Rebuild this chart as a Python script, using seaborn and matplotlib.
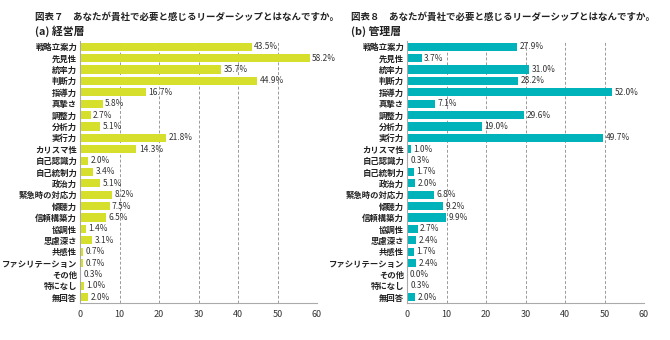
import matplotlib
matplotlib.use("Agg")
import matplotlib.pyplot as plt
import seaborn as sns
import pandas as pd

categories = ["戦略立案力", "先見性", "統率力", "判断力", "指導力", "真摯さ", "調整力", "分析力",
              "実行力", "カリスマ性", "自己認識力", "自己統制力", "政治力", "緊急時の対応力", "傾聴力",
              "信頼構築力", "協調性", "思慮深さ", "共感性", "ファシリテーション", "その他", "特になし", "無回答"]
exec_values = [43.5, 58.2, 35.7, 44.9, 16.7, 5.8, 2.7, 5.1, 21.8, 14.3, 2.0, 3.4, 5.1, 8.2, 7.5,
               6.5, 1.4, 3.1, 0.7, 0.7, 0.3, 1.0, 2.0]
mgr_values = [27.9, 3.7, 31.0, 28.2, 52.0, 7.1, 29.6, 19.0, 49.7, 1.0, 0.3, 1.7, 2.0, 6.8, 9.2,
              9.9, 2.7, 2.4, 1.7, 2.4, 0.0, 0.3, 2.0]
x_ticks = [0, 10, 20, 30, 40, 50, 60]
titles = ["図表７　あなたが貴社で必要と感じるリーダーシップとはなんですか。",
          "図表８　あなたが貴社で必要と感じるリーダーシップとはなんですか。"]
subtitles = ["(a) 経営層", "(b) 管理層"]
colors = ["#d6df2b", "#00b2b9"]

sns.set_theme(style="white")
plt.rcParams['font.family'] = ['Noto Sans CJK JP', 'DejaVu Sans']

fig = plt.figure(figsize=(6.7, 3.4), dpi=100)
W, H = 670, 340
panels = [(80, exec_values, 35), (407, mgr_values, 351)]

for i, (x0, vals, tx) in enumerate(panels):
    ax = fig.add_axes([x0 / W, 1 - 303 / H, 237 / W, (303 - 41) / H])
    df = pd.DataFrame({"cat": categories, "val": vals})
    sns.barplot(data=df, x="val", y="cat", orient="h", color=colors[i], width=0.72,
                saturation=1, ax=ax, edgecolor="none")
    ax.set_xlim(0, 60)
    ax.set_xticks(x_ticks)
    ax.set_xlabel("")
    ax.set_ylabel("")
    ax.tick_params(axis="x", labelsize=6.5, length=0, pad=5, colors="#333333")
    ax.tick_params(axis="y", labelsize=6.0, length=0, pad=2)
    for lbl in ax.get_yticklabels():
        lbl.set_fontweight("bold")
        lbl.set_color("#222222")
    for t in x_ticks[1:]:
        ax.axvline(t, color="#999999", linestyle=(0, (3, 2)), linewidth=0.7, zorder=0)
    for s in ["top", "right"]:
        ax.spines[s].set_visible(False)
    for s in ["left", "bottom"]:
        ax.spines[s].set_color("#aaaaaa")
        ax.spines[s].set_linewidth(0.8)
    for j, v in enumerate(vals):
        ax.text(v + 0.6, j, f"{v:.1f}%", va="center", ha="left", fontsize=6,
                color="#333333", family=['Noto Sans CJK JP', 'DejaVu Sans'])
    fig.text(tx / W, 1 - 17 / H, titles[i], fontsize=6.8, fontweight="bold", va="center", ha="left",
             color="#222222")
    fig.text(tx / W, 1 - 31 / H, subtitles[i], fontsize=7.8, fontweight="bold", va="center", ha="left",
             color="#222222")

fig.savefig("out.png", dpi=100)
